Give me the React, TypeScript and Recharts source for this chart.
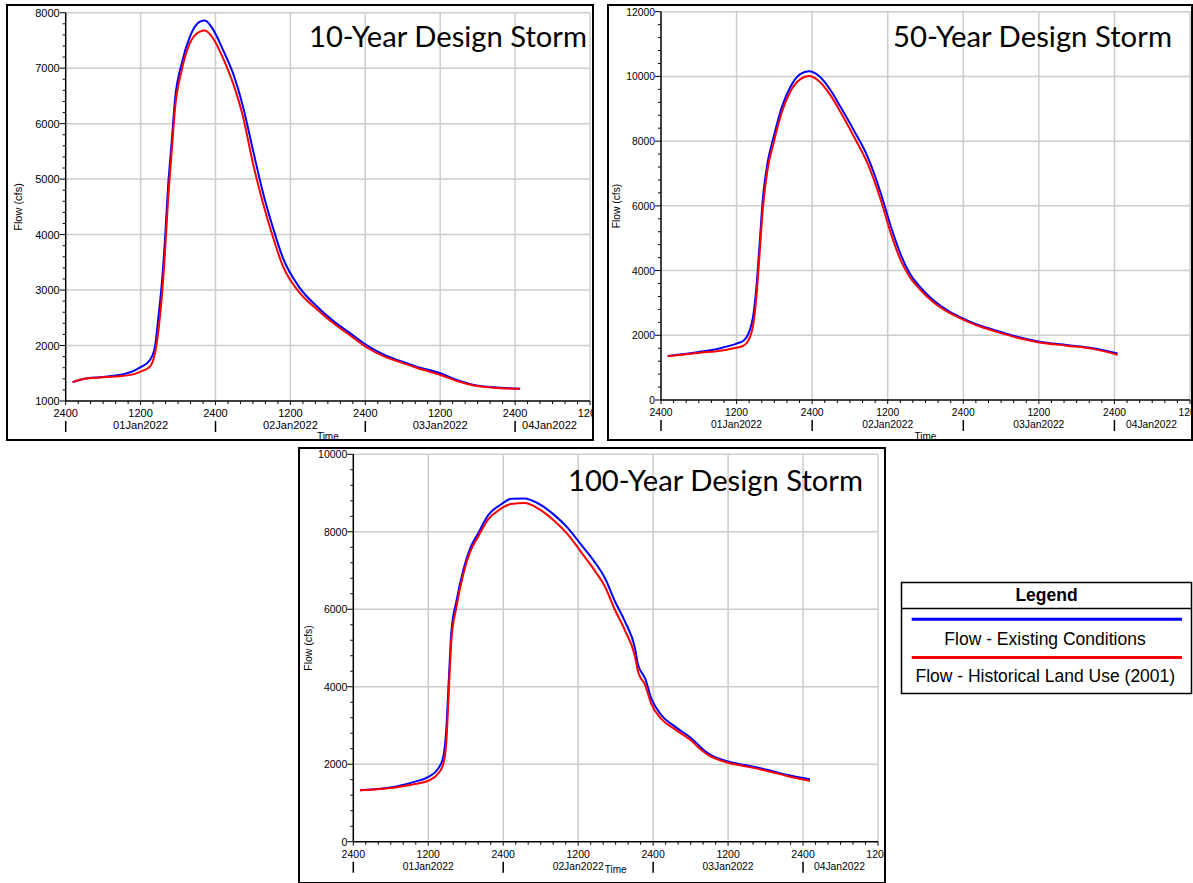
import React from 'react';
import { LineChart, Line, XAxis, YAxis, CartesianGrid } from 'recharts';

// 10-year storm hydrographs (hours after 01Jan2022 0000, flow in cfs)
const hours10 = [1.1, 3, 5.5, 8, 10.8, 12, 13.5, 14.3, 14.8, 15.4, 15.9, 16.4, 17, 17.5, 18.6, 19.9, 21.5, 22.3, 23.6, 25.2, 26.8, 28.4, 30, 31.6, 33.3, 34.8, 37.5, 40.3, 42.9, 45.6, 48.3, 50.9, 53.6, 56.2, 60, 62.7, 65.4, 68.5, 72.8];
const existing10 = [1340, 1400, 1430, 1460, 1540, 1610, 1740, 1980, 2460, 3120, 3900, 4860, 5700, 6420, 7090, 7570, 7840, 7860, 7700, 7330, 6910, 6310, 5525, 4760, 4090, 3580, 3040, 2700, 2440, 2220, 2000, 1840, 1720, 1620, 1500, 1380, 1290, 1250, 1220];
const historical10 = [1340, 1400, 1425, 1440, 1480, 1530, 1620, 1860, 2220, 2880, 3660, 4620, 5525, 6250, 6970, 7450, 7660, 7680, 7540, 7180, 6730, 6130, 5285, 4570, 3920, 3430, 2950, 2650, 2400, 2180, 1960, 1810, 1700, 1600, 1470, 1360, 1280, 1240, 1220];

// 50-year storm
const hours50 = [1.06, 6.2, 9.4, 12.1, 13.1, 13.9, 14.7, 15.2, 15.7, 16.2, 16.9, 17.9, 19.2, 20.5, 22.1, 23.5, 25.1, 26.9, 28.5, 30.6, 32.8, 34.9, 36.5, 38.1, 39.5, 41.1, 43.2, 45.8, 48.5, 51.1, 53.8, 56.4, 60.1, 64.4, 68.6, 72.5];
const existing50 = [1360, 1490, 1600, 1750, 1830, 2060, 2680, 3600, 4940, 6280, 7310, 8140, 9060, 9660, 10070, 10160, 10010, 9580, 9060, 8340, 7520, 6390, 5360, 4480, 3910, 3500, 3090, 2730, 2470, 2270, 2110, 1960, 1800, 1700, 1600, 1440];
const historical50 = [1350, 1460, 1520, 1620, 1680, 1850, 2400, 3300, 4640, 5970, 7100, 7960, 8900, 9520, 9910, 10010, 9850, 9420, 8900, 8150, 7310, 6180, 5150, 4300, 3800, 3420, 3030, 2690, 2440, 2240, 2080, 1930, 1780, 1680, 1580, 1400];

// 100-year storm
const hours100 = [1.07, 6.7, 9.9, 12.1, 13.6, 14.4, 14.9, 15.3, 15.7, 16.5, 17.6, 18.7, 20, 21.6, 23.5, 25.3, 27.4, 29.6, 32.2, 34.4, 36.5, 38.6, 40.3, 41.9, 43.5, 45.1, 45.6, 46.7, 47.7, 49.3, 51.5, 54.1, 55.2, 56.8, 60, 62.7, 66.4, 69.6, 73.1];
const existing100 = [1330, 1420, 1550, 1680, 1890, 2190, 2930, 4220, 5420, 6200, 7010, 7570, 7960, 8430, 8690, 8850, 8860, 8730, 8430, 8090, 7660, 7230, 6800, 6200, 5680, 4990, 4560, 4220, 3700, 3270, 2970, 2670, 2500, 2280, 2070, 1980, 1850, 1720, 1610];
const historical100 = [1330, 1400, 1490, 1580, 1760, 2000, 2600, 3900, 5200, 6050, 6900, 7480, 7880, 8320, 8580, 8720, 8740, 8600, 8280, 7920, 7470, 7010, 6580, 5980, 5450, 4780, 4380, 4050, 3560, 3170, 2900, 2610, 2440, 2240, 2040, 1950, 1820, 1690, 1570];

// time axis: minor ticks every 2 h, labels every 12 h
const timeTicks = [0, 2, 4, 6, 8, 10, 12, 14, 16, 18, 20, 22, 24, 26, 28, 30, 32, 34, 36, 38, 40, 42, 44, 46, 48, 50, 52, 54, 56, 58, 60, 62, 64, 66, 68, 70, 72, 74, 76, 78, 80, 82, 84];
const timeGrid = [12, 24, 36, 48, 60, 72, 84];
const hourLabels = ['2400', '1200'];
const dateLabels = ['01Jan2022', '02Jan2022', '03Jan2022', '04Jan2022'];

const flowTicks10 = [1000, 1200, 1400, 1600, 1800, 2000, 2200, 2400, 2600, 2800, 3000, 3200, 3400, 3600, 3800, 4000, 4200, 4400, 4600, 4800, 5000, 5200, 5400, 5600, 5800, 6000, 6200, 6400, 6600, 6800, 7000, 7200, 7400, 7600, 7800, 8000];
const flowGrid10 = [2000, 3000, 4000, 5000, 6000, 7000, 8000];
const flowTicks50 = [0, 400, 800, 1200, 1600, 2000, 2400, 2800, 3200, 3600, 4000, 4400, 4800, 5200, 5600, 6000, 6400, 6800, 7200, 7600, 8000, 8400, 8800, 9200, 9600, 10000, 10400, 10800, 11200, 11600, 12000];
const flowGrid50 = [2000, 4000, 6000, 8000, 10000, 12000];
const flowTicks100 = [0, 400, 800, 1200, 1600, 2000, 2400, 2800, 3200, 3600, 4000, 4400, 4800, 5200, 5600, 6000, 6400, 6800, 7200, 7600, 8000, 8400, 8800, 9200, 9600, 10000];
const flowGrid100 = [2000, 4000, 6000, 8000, 10000];

const seriesNames = ['Flow - Existing Conditions', 'Flow - Historical Land Use (2001)'];
const BLUE = '#0000ff';
const RED = '#ff0000';
const ARIAL = '"Liberation Sans", Arial, sans-serif';

// space reserved inside the svg for the axes
const Y_AXIS_W = 40;
const X_AXIS_H = 30;

const toRows = (hours: number[], a: number[], b: number[]) =>
  hours.map((h, i) => ({ h, existing: a[i], historical: b[i] }));

type Panel = {
  title: string;
  rows: { h: number; existing: number; historical: number }[];
  yDomain: [number, number];
  yTicks: number[];
  yGrid: number[];
  yMajor: number;
  frame: { left: number; top: number; width: number; height: number };
  chart: { left: number; top: number; width: number; height: number };
  plot: { top: number; right: number; bottom: number; left: number };
  font: number;
  dateWidth: number;
  titleX: number;
  titleY: number;
  titleW: number;
  yLabel: [number, number];
  timeY: number;
};

const panels: Panel[] = [
  {
    title: '10-Year Design Storm',
    rows: toRows(hours10, existing10, historical10),
    yDomain: [1000, 8000],
    yTicks: flowTicks10,
    yGrid: flowGrid10,
    yMajor: 1000,
    frame: { left: 6, top: 4, width: 588, height: 437 },
    chart: { left: 8, top: 6, width: 584, height: 433 },
    plot: { top: 6.7, right: 2, bottom: 38, left: 57.7 },
    font: 11,
    dateWidth: 55,
    titleX: 587,
    titleY: 46.7,
    titleW: 278,
    yLabel: [17.7, 207],
    timeY: 440,
  },
  {
    title: '50-Year Design Storm',
    rows: toRows(hours50, existing50, historical50),
    yDomain: [0, 12000],
    yTicks: flowTicks50,
    yGrid: flowGrid50,
    yMajor: 2000,
    frame: { left: 607, top: 4, width: 586, height: 437 },
    chart: { left: 609, top: 6, width: 582, height: 433 },
    plot: { top: 5.7, right: 1, bottom: 39, left: 52 },
    font: 10.3,
    dateWidth: 51,
    titleX: 1172,
    titleY: 46.7,
    titleW: 279,
    yLabel: [616.7, 206],
    timeY: 440,
  },
  {
    title: '100-Year Design Storm',
    rows: toRows(hours100, existing100, historical100),
    yDomain: [0, 10000],
    yTicks: flowTicks100,
    yGrid: flowGrid100,
    yMajor: 2000,
    frame: { left: 298, top: 447, width: 588, height: 437 },
    chart: { left: 300, top: 449, width: 584, height: 432 },
    plot: { top: 5.3, right: 6, bottom: 39.3, left: 53.3 },
    font: 10.5,
    dateWidth: 51,
    titleX: 863,
    titleY: 490.5,
    titleW: 295,
    yLabel: [307.7, 648],
    timeY: 873,
  },
];

const makeTimeTick = (p: Panel) => (props: any) => {
  const { x, y, payload } = props;
  const h = payload.value as number;
  const major = h % 12 === 0;
  const day = Math.floor(h / 24);
  return (
    <g fontFamily={ARIAL} fill="#000">
      <line x1={x} y1={y} x2={x} y2={y + (major ? 4 : 3)} stroke="#000" strokeWidth={1} />
      {major && (
        <text x={x} y={y + 16} textAnchor="middle" fontSize={p.font}>
          {hourLabels[(h / 12) % 2]}
        </text>
      )}
      {h % 24 === 0 && h < 84 && (
        <line x1={x} y1={y + 20} x2={x} y2={y + 31} stroke="#000" strokeWidth={1.5} />
      )}
      {h % 24 === 12 && h < 84 && (
        <text x={x} y={y + 28} textAnchor="middle" fontSize={p.font} textLength={p.dateWidth} lengthAdjust="spacingAndGlyphs">
          {dateLabels[day]}
        </text>
      )}
      {h === 84 && (
        <text x={x - 13} y={y + 28} textAnchor="end" fontSize={p.font} textLength={p.dateWidth} lengthAdjust="spacingAndGlyphs">
          {dateLabels[3]}
        </text>
      )}
    </g>
  );
};

const makeFlowTick = (p: Panel) => (props: any) => {
  const { x, y, payload } = props;
  const v = payload.value as number;
  const major = v % p.yMajor === 0;
  return (
    <g fontFamily={ARIAL} fill="#000">
      <line x1={x - (major ? 6 : 3)} y1={y} x2={x} y2={y} stroke="#000" strokeWidth={1} />
      {major && (
        <text x={x - 6} y={y + 4} textAnchor="end" fontSize={p.font}>
          {v}
        </text>
      )}
    </g>
  );
};

function StormChart({ p }: { p: Panel }) {
  const margin = {
    top: p.plot.top,
    right: p.plot.right,
    bottom: p.plot.bottom - X_AXIS_H,
    left: p.plot.left - Y_AXIS_W,
  };
  return (
    <div style={{ position: 'absolute', left: p.chart.left, top: p.chart.top }}>
      <LineChart width={p.chart.width} height={p.chart.height} data={p.rows} margin={margin}>
        <CartesianGrid
          stroke="#cccccc"
          strokeWidth={1.5}
          horizontalValues={p.yGrid}
          verticalValues={timeGrid}
        />
        <XAxis
          dataKey="h"
          type="number"
          domain={[0, 84]}
          ticks={timeTicks}
          interval={0}
          height={X_AXIS_H}
          tickSize={0}
          tickMargin={0}
          tickLine={false}
          axisLine={{ stroke: '#000', strokeWidth: 1.5 }}
          tick={makeTimeTick(p)}
          allowDataOverflow
        />
        <YAxis
          type="number"
          domain={p.yDomain}
          ticks={p.yTicks}
          interval={0}
          width={Y_AXIS_W}
          tickSize={0}
          tickMargin={0}
          tickLine={false}
          axisLine={{ stroke: '#000', strokeWidth: 1.5 }}
          tick={makeFlowTick(p)}
          allowDataOverflow
        />
        <Line dataKey="existing" type="monotone" stroke={BLUE} strokeWidth={2} dot={false} isAnimationActive={false} />
        <Line dataKey="historical" type="monotone" stroke={RED} strokeWidth={2} dot={false} isAnimationActive={false} />
      </LineChart>
    </div>
  );
}

export default function App() {
  return (
    <div style={{ position: 'absolute', left: 0, top: 0, width: 1193, height: 883, background: '#fff', overflow: 'hidden' }}>
      {panels.map((p) => (
        <StormChart key={p.title} p={p} />
      ))}

      {/* titles, axis names and the shared legend */}
      <svg width={1193} height={883} style={{ position: 'absolute', left: 0, top: 0, pointerEvents: 'none' }}>
        {panels.map((p) => (
          <g key={p.title}>
            <text
              x={p.titleX}
              y={p.titleY}
              textAnchor="end"
              fontFamily="Lato, 'Open Sans', sans-serif"
              fontSize={28}
              textLength={p.titleW}
              lengthAdjust="spacingAndGlyphs"
              fill="#000"
            >
              {p.title}
            </text>
            <text
              x={p.yLabel[0]}
              y={p.yLabel[1]}
              transform={`rotate(-90 ${p.yLabel[0]} ${p.yLabel[1]})`}
              textAnchor="middle"
              dominantBaseline="central"
              fontFamily={ARIAL}
              fontSize={p.font}
            >
              Flow (cfs)
            </text>
            <text
              x={p.chart.left + p.plot.left + (p.chart.width - p.plot.left - p.plot.right) / 2}
              y={p.timeY}
              textAnchor="middle"
              fontFamily={ARIAL}
              fontSize={10}
            >
              Time
            </text>
          </g>
        ))}

        <g fontFamily={ARIAL} fill="#000">
          <rect x={901.5} y={582.5} width={290} height={111} fill="#fff" stroke="#000" strokeWidth={1.5} />
          <line x1={901.5} y1={608.5} x2={1191.5} y2={608.5} stroke="#000" strokeWidth={1.5} />
          <text x={1046.5} y={600.7} textAnchor="middle" fontSize={17.5} fontWeight="bold">
            Legend
          </text>
          <line x1={911.7} y1={619.2} x2={1182} y2={619.2} stroke={BLUE} strokeWidth={3} />
          <text x={1045} y={645} textAnchor="middle" fontSize={17.5}>
            {seriesNames[0]}
          </text>
          <line x1={911.7} y1={657.5} x2={1182} y2={657.5} stroke={RED} strokeWidth={3} />
          <text x={1045.3} y={681.7} textAnchor="middle" fontSize={17.5}>
            {seriesNames[1]}
          </text>
        </g>
      </svg>

      {panels.map((p) => (
        <div
          key={`frame-${p.title}`}
          style={{
            position: 'absolute',
            left: p.frame.left,
            top: p.frame.top,
            width: p.frame.width,
            height: p.frame.height,
            border: '2px solid #000',
            boxSizing: 'border-box',
            pointerEvents: 'none',
          }}
        />
      ))}
    </div>
  );
}
